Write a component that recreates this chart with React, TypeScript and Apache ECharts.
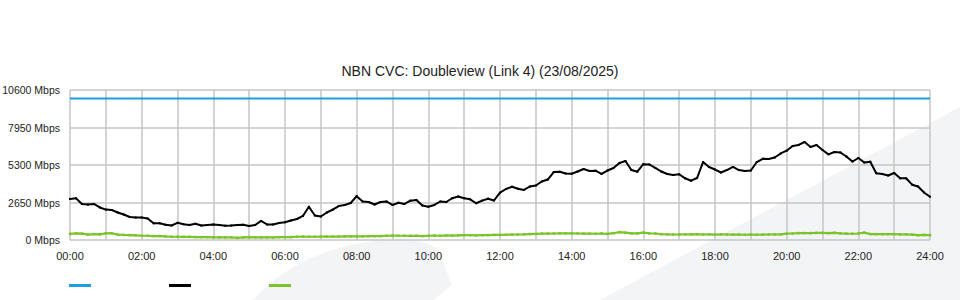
import React, { useEffect, useRef } from "react";
import * as echarts from "echarts";

const TITLE = "NBN CVC: Doubleview (Link 4) (23/08/2025)";
const STEP_MIN = 10;
const Y_TICKS = [0, 2650, 5300, 7950, 10600];
const X_TICK_HOURS = ["00:00", "02:00", "04:00", "06:00", "08:00", "10:00", "12:00", "14:00", "16:00", "18:00", "20:00", "22:00", "24:00"];

const capacity = 10000;

const download = [
  2900, 2950, 2545, 2510, 2550, 2300, 2150, 2120, 1945, 1800, 1625, 1590,
  1585, 1520, 1180, 1180, 1080, 1025, 1215, 1115, 1060, 1145, 1020, 1060,
  1095, 1060, 1010, 1025, 1060, 1075, 990, 1060, 1350, 1095, 1095, 1200,
  1250, 1380, 1485, 1700, 2350, 1730, 1660, 1945, 2150, 2400, 2475, 2615,
  3100, 2720, 2685, 2510, 2685, 2720, 2475, 2630, 2545, 2780, 2830, 2440,
  2355, 2475, 2720, 2685, 2950, 3075, 2950, 2875, 2595, 2780, 2920, 2790,
  3345, 3605, 3765, 3625, 3535, 3780, 3850, 4135, 4275, 4805, 4825, 4700,
  4685, 4840, 5015, 4875, 4900, 4665, 4910, 5090, 5440, 5585, 4945, 4825,
  5355, 5335, 5090, 4840, 4665, 4595, 4645, 4360, 4190, 4380, 5510, 5160,
  4980, 4770, 4945, 5160, 4945, 4875, 4910, 5510, 5740, 5725, 5830, 6115,
  6310, 6645, 6715, 6925, 6570, 6715, 6360, 6055, 6220, 6185, 5900, 5545,
  5795, 5475, 5535, 4715, 4665, 4560, 4735, 4360, 4360, 3910, 3780, 3355,
  3060,
];

const upload = [
  430, 470, 450, 380, 420, 400, 470, 480, 380, 360, 350, 330,
  300, 300, 280, 280, 250, 230, 230, 220, 220, 210, 200, 200,
  190, 190, 180, 190, 150, 180, 200, 190, 190, 190, 180, 200,
  200, 210, 230, 240, 230, 230, 240, 240, 240, 240, 250, 260,
  260, 260, 270, 270, 280, 300, 310, 300, 300, 290, 300, 280,
  300, 310, 300, 320, 310, 330, 350, 340, 330, 340, 350, 360,
  360, 370, 380, 390, 400, 420, 430, 450, 450, 460, 470, 470,
  470, 460, 450, 450, 440, 460, 430, 480, 560, 520, 470, 470,
  520, 470, 460, 410, 400, 390, 390, 400, 400, 410, 390, 400,
  380, 400, 390, 380, 380, 370, 380, 370, 380, 390, 400, 400,
  450, 460, 490, 490, 490, 500, 500, 490, 510, 470, 450, 440,
  460, 520, 420, 410, 410, 410, 410, 400, 400, 380, 340, 360,
  340,
];

const SERIES_NAMES = ["Capacity", "Download", "Upload"];
const COLORS = ["#1aa0e0", "#000000", "#7cc42a"];

echarts.graphic.registerShape(
  "wmLobe",
  echarts.graphic.extendPath("M253,300 Q300,248 383,240 Q425,237 438,250 L452,285 L433,300 Z", {})
);

export default function App() {
  const ref = useRef<HTMLDivElement>(null);
  useEffect(() => {
    if (!ref.current) return;
    const chart = echarts.init(ref.current, null, { renderer: "svg" });
    const toPairs = (arr: number[]) => arr.map((v, i) => [i * STEP_MIN, v]);
    const capData = download.map((_, i) => [i * STEP_MIN, capacity]);
    const font = "'Liberation Sans', Arial, sans-serif";
    chart.setOption({
      animation: false,
      backgroundColor: "#ffffff",
      title: {
        text: TITLE,
        left: "center",
        top: 59,
        textStyle: { fontSize: 14, fontWeight: "normal", color: "#222", fontFamily: font },
      },
      graphic: [
        {
          type: "polygon",
          z: -10,
          silent: true,
          shape: { points: [[600, 300], [960, 107], [960, 300]] },
          style: { fill: "#f3f4f6" },
        },
        {
          type: "wmLobe",
          z: -10,
          silent: true,
          x: 0,
          y: 0,
          style: { fill: "#f3f4f6" },
        },
      ],
      legend: {
        left: 69,
        top: 284,
        padding: 0,
        itemWidth: 22,
        itemHeight: 3,
        itemGap: 78,
        icon: "rect",
        formatter: () => "",
        data: SERIES_NAMES,
        textStyle: { fontSize: 11 },
      },
      grid: { left: 70, right: 30, top: 90, bottom: 60, outerBoundsMode: "none", containLabel: false },
      xAxis: {
        type: "value",
        min: 0,
        max: 1440,
        interval: 60,
        axisLine: { show: false },
        axisTick: { show: false },
        axisLabel: {
          color: "#222",
          fontSize: 11,
          fontFamily: font,
          margin: 10,
          showMinLabel: true,
          showMaxLabel: true,
          hideOverlap: false,
          formatter: (v: number) => (v % 120 === 0 ? X_TICK_HOURS[v / 120] : ""),
        },
        splitLine: { show: true, lineStyle: { color: "#c6c6c6", width: 1.5 } },
      },
      yAxis: {
        type: "value",
        min: Y_TICKS[0],
        max: Y_TICKS[Y_TICKS.length - 1],
        interval: Y_TICKS[1] - Y_TICKS[0],
        axisLine: { show: false },
        axisTick: { show: false },
        axisLabel: {
          color: "#222",
          fontSize: 10.5,
          fontFamily: font,
          margin: 10,
          padding: [0, 0, 4, 0],
          formatter: (v: number) => `${v} Mbps`,
        },
        splitLine: { show: true, lineStyle: { color: "#c6c6c6", width: 1.5 } },
      },
      series: [
        {
          name: SERIES_NAMES[0],
          type: "line",
          data: capData,
          showSymbol: false,
          lineStyle: { color: COLORS[0], width: 2 },
          itemStyle: { color: COLORS[0] },
          z: 3,
        },
        {
          name: SERIES_NAMES[1],
          type: "line",
          data: toPairs(download),
          symbol: "rect",
          symbolSize: 2,
          showSymbol: true,
          lineStyle: { color: COLORS[1], width: 2 },
          itemStyle: { color: COLORS[1] },
          z: 4,
        },
        {
          name: SERIES_NAMES[2],
          type: "line",
          data: toPairs(upload),
          symbol: "rect",
          symbolSize: 2.5,
          showSymbol: true,
          lineStyle: { color: COLORS[2], width: 2.2 },
          itemStyle: { color: COLORS[2] },
          z: 3,
        },
      ],
    });
    return () => chart.dispose();
  }, []);
  return <div ref={ref} style={{ width: 960, height: 300, position: "absolute", left: 0, top: 0 }} />;
}
